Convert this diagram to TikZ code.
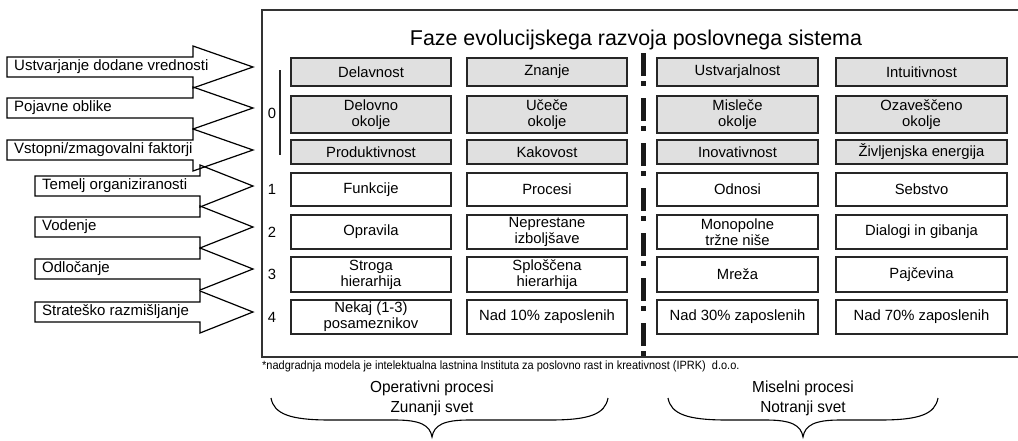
\documentclass[tikz,border=0pt]{standalone}
\usepackage{fontspec}
\setmainfont{Liberation Sans}
\begin{document}
\begin{tikzpicture}[x=1pt,y=-1pt,
  cell/.style={draw=black!85, line width=1.5pt, align=center, inner sep=0pt,
               font=\fontsize{14.8}{16}\selectfont},
  shaded/.style={cell, fill=black!12},
  plain/.style={cell, fill=white},
  blockarrow/.style={draw=black, line width=1.2pt, line join=miter},
  arrowlabel/.style={anchor=west, inner sep=0pt, font=\fontsize{15}{18}\selectfont},
  rowno/.style={inner sep=0pt, font=\fontsize{14.8}{18}\selectfont},
  frameline/.style={draw=black!80, line width=1.4pt},
  bracepath/.style={draw=black, line width=1.1pt},
  caption/.style={inner sep=0pt, font=\fontsize{16}{19}\selectfont},
]
\useasboundingbox (0,0) rectangle (1018,440);

% outer frame (open to the right)
\coordinate (frNE) at (1022,10);
\coordinate (frNW) at (262,10);
\coordinate (frSW) at (262,357);
\coordinate (frSE) at (1022,357);
\draw[frameline] (frNE) -- (frNW) -- (frSW) -- (frSE);

% title
\node[inner sep=0pt, font=\fontsize{21.4}{24}\selectfont] (title) at (636,40)
  {Faze evolucijskega razvoja poslovnega sistema};

% dash-dot separator
\coordinate (sepTop) at (643,53);
\coordinate (sepBot) at (643,361);
\draw[line width=5pt, black!90, dash pattern=on 23pt off 5pt on 5pt off 12pt]
  (sepTop) -- (sepBot);

% level 0 bracket and row numbers
\coordinate (brTop) at (280,70);
\coordinate (brBot) at (280,155);
\draw[black!85, line width=1.1pt] (brTop) -- (brBot);
\node[rowno] (n0) at (272,113) {0};
\node[rowno] (n1) at (272,189.5) {1};
\node[rowno] (n2) at (272,232) {2};
\node[rowno] (n3) at (272,274.5) {3};
\node[rowno] (n4) at (272,317) {4};

% ---- shaded rows ----
\node[shaded, minimum width=160, minimum height=28] (a1) at (371,72) {Delavnost};
\node[shaded, minimum width=160, minimum height=28] (a2) at (547,72) {Znanje};
\node[shaded, minimum width=161, minimum height=28] (a3) at (737.5,72) {Ustvarjalnost};
\node[shaded, minimum width=171, minimum height=28] (a4) at (921.5,72) {Intuitivnost};

\node[shaded, minimum width=160, minimum height=37] (b1) at (371,114.5) {Delovno\\okolje};
\node[shaded, minimum width=160, minimum height=37] (b2) at (547,114.5) {Učeče\\okolje};
\node[shaded, minimum width=161, minimum height=37] (b3) at (737.5,114.5) {Misleče\\okolje};
\node[shaded, minimum width=171, minimum height=37] (b4) at (921.5,114.5) {Ozaveščeno\\okolje};

\node[shaded, minimum width=160, minimum height=24] (c1) at (371,152) {Produktivnost};
\node[shaded, minimum width=160, minimum height=24] (c2) at (547,152) {Kakovost};
\node[shaded, minimum width=161, minimum height=24] (c3) at (737.5,152) {Inovativnost};
\node[shaded, minimum width=171, minimum height=24] (c4) at (921.5,152) {Življenjska energija};

% ---- white rows ----
\node[plain, minimum width=160, minimum height=33] (d1) at (371,189.5) {Funkcije};
\node[plain, minimum width=160, minimum height=33] (d2) at (547,189.5) {Procesi};
\node[plain, minimum width=161, minimum height=33] (d3) at (737.5,189.5) {Odnosi};
\node[plain, minimum width=171, minimum height=33] (d4) at (921.5,189.5) {Sebstvo};

\node[plain, minimum width=160, minimum height=34] (e1) at (371,232) {Opravila};
\node[plain, minimum width=160, minimum height=34] (e2) at (547,232) {Neprestane\\izboljšave};
\node[plain, minimum width=161, minimum height=34] (e3) at (737.5,232) {Monopolne\\tržne niše};
\node[plain, minimum width=171, minimum height=34] (e4) at (921.5,232) {Dialogi in gibanja};

\node[plain, minimum width=160, minimum height=35] (f1) at (371,274.5) {Stroga\\hierarhija};
\node[plain, minimum width=160, minimum height=35] (f2) at (547,274.5) {Sploščena\\hierarhija};
\node[plain, minimum width=161, minimum height=35] (f3) at (737.5,274.5) {Mreža};
\node[plain, minimum width=171, minimum height=35] (f4) at (921.5,274.5) {Pajčevina};

\node[plain, minimum width=160, minimum height=34] (g1) at (371,317) {Nekaj (1-3)\\posameznikov};
\node[plain, minimum width=160, minimum height=34] (g2) at (547,317) {Nad 10\% zaposlenih};
\node[plain, minimum width=161, minimum height=34] (g3) at (737.5,317) {Nad 30\% zaposlenih};
\node[plain, minimum width=171, minimum height=34] (g4) at (921.5,317) {Nad 70\% zaposlenih};

% ---- block arrows on the left ----
% \blockarr{left x}{head base x}{centre y}
\newcommand\blockarr[3]{%
  \draw[blockarrow] (#1,#3-10) -- (#2,#3-10) -- (#2,#3-21) -- (253,#3)
    -- (#2,#3+21) -- (#2,#3+10) -- (#1,#3+10) -- cycle;}
\blockarr{7}{193}{67}
\blockarr{7}{193}{108}
\blockarr{7}{193}{150}
\blockarr{35}{200}{186}
\blockarr{35}{200}{227}
\blockarr{35}{200}{269}
\blockarr{35}{200}{312}

\node[arrowlabel] (l1) at (14,67) {Ustvarjanje dodane vrednosti};
\node[arrowlabel] (l2) at (14,108) {Pojavne oblike};
\node[arrowlabel] (l3) at (14,150) {Vstopni/zmagovalni faktorji};
\node[arrowlabel] (l4) at (42,186) {Temelj organiziranosti};
\node[arrowlabel] (l5) at (42,227) {Vodenje};
\node[arrowlabel] (l6) at (42,269) {Odločanje};
\node[arrowlabel] (l7) at (42,312) {Strateško razmišljanje};

% footnote
\node[anchor=west, inner sep=0pt, font=\fontsize{12}{14}\selectfont] (note) at (262,366)
  {\scalebox{0.915}[1]{*nadgradnja modela je intelektualna lastnina Instituta za poslovno rast in kreativnost (IPRK)\ \ d.o.o.}};

% captions under the table
\node[caption] (op1) at (432,388) {\scalebox{0.96}[1]{Operativni procesi}};
\node[caption] (op2) at (432,408) {\scalebox{0.96}[1]{Zunanji svet}};
\node[caption] (mi1) at (803,388) {\scalebox{0.96}[1]{Miselni procesi}};
\node[caption] (mi2) at (803,408) {\scalebox{0.96}[1]{Notranji svet}};

% curly braces
\coordinate (bLl) at (271,398);
\coordinate (bLt) at (432,437);
\coordinate (bLr) at (608,398);
\draw[bracepath] (bLl) .. controls (274,414) and (290,420) .. (330,420)
  -- (395,420) .. controls (420,420) and (430,425) .. (bLt)
  .. controls (434,425) and (444,420) .. (469,420)
  -- (550,420) .. controls (590,420) and (605,414) .. (bLr);
\coordinate (bRl) at (668,398);
\coordinate (bRt) at (803,437);
\coordinate (bRr) at (938,398);
\draw[bracepath] (bRl) .. controls (671,414) and (687,420) .. (727,420)
  -- (766,420) .. controls (791,420) and (801,425) .. (bRt)
  .. controls (805,425) and (815,420) .. (840,420)
  -- (880,420) .. controls (920,420) and (935,414) .. (bRr);
\end{tikzpicture}
\end{document}
